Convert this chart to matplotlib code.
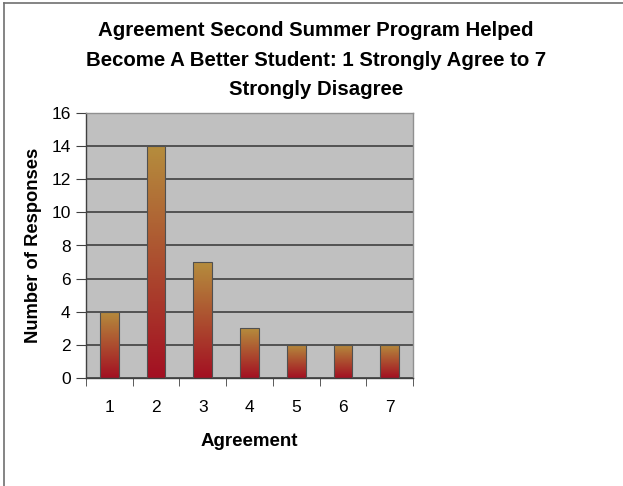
import matplotlib
matplotlib.use("Agg")
import matplotlib.pyplot as plt
import numpy as np
from matplotlib.colors import LinearSegmentedColormap
from matplotlib.patches import Rectangle

categories = ["1", "2", "3", "4", "5", "6", "7"]
values = [4, 14, 7, 3, 2, 2, 2]
yticks = [0, 2, 4, 6, 8, 10, 12, 14, 16]

plt.rcParams['font.family'] = ['Liberation Sans', 'DejaVu Sans']

fig = plt.figure(figsize=(6.23, 4.86), dpi=100)
ax = fig.add_axes([86/623, 1-378/486, (413-86)/623, (378-113)/486])
ax.set_facecolor("#C0C0C0")

x = np.arange(len(categories))
width = 0.4
cmap = LinearSegmentedColormap.from_list("g", ["#A30F22", "#B58D3D"])
grad = np.linspace(0, 1, 256).reshape(-1, 1)
bars = ax.bar(x, values, width=width, color="none", edgecolor="#505050", linewidth=0.8, zorder=3)
for b in bars:
    x0, y0 = b.get_x(), b.get_y()
    w, h = b.get_width(), b.get_height()
    im = ax.imshow(grad, extent=[x0, x0 + w, y0, y0 + h], origin="lower",
                   cmap=cmap, aspect="auto", zorder=2)
    clip = Rectangle((x0, y0), w, h, transform=ax.transData)
    im.set_clip_path(clip)

ax.set_xlim(-0.5, len(categories) - 0.5)
ax.set_ylim(0, 16)
ax.set_yticks(yticks)
ax.set_yticklabels([str(t) for t in yticks], fontsize=12.5)
ax.set_xticks(x)
ax.set_xticklabels(categories, fontsize=12.5)
ax.set_xticks(np.arange(-0.5, len(categories), 1), minor=True)
ax.tick_params(axis='x', which='major', length=0, pad=16)
ax.tick_params(axis='x', which='minor', length=6, color="#404040", direction='out')
ax.tick_params(axis='y', length=7, color="#404040", direction='out', pad=4)
ax.grid(axis='y', color="#404040", linewidth=1.2, zorder=1)
ax.set_axisbelow(True)
for s in ['top', 'right']:
    ax.spines[s].set_color("#909090")
    ax.spines[s].set_linewidth(1.0)
for s in ['left', 'bottom']:
    ax.spines[s].set_color("#404040")
    ax.spines[s].set_linewidth(1.0)

ax.set_xlabel("Agreement", fontsize=13.5, fontweight='bold', labelpad=13)
ax.set_ylabel("Number of Responses", fontsize=13.2, fontweight='bold', labelpad=7)

fig.text(316/623, 1-60/486,
         "Agreement Second Summer Program Helped\nBecome A Better Student: 1 Strongly Agree to 7\nStrongly Disagree",
         ha='center', va='center', fontsize=14.7, fontweight='bold', linespacing=1.7)

# figure border (left and top)
fig.add_artist(plt.Line2D([4/623, 4/623], [0, 1-3/486], transform=fig.transFigure, color="#707070", linewidth=1.2))
fig.add_artist(plt.Line2D([4/623, 1], [1-3/486, 1-3/486], transform=fig.transFigure, color="#707070", linewidth=1.2))

fig.savefig("out.png", dpi=100)
